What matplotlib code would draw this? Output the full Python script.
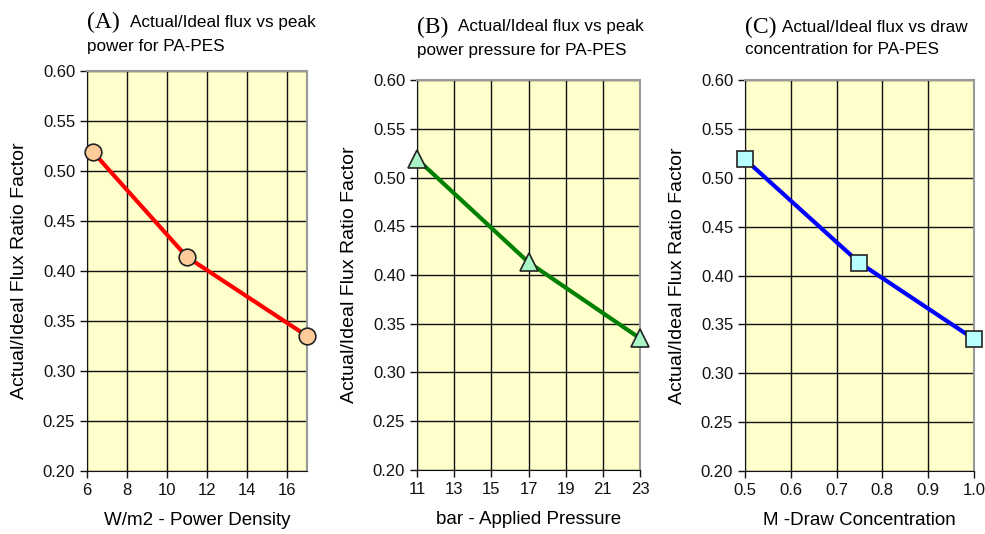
import matplotlib
matplotlib.use('Agg')
import matplotlib.pyplot as plt
from matplotlib.ticker import FormatStrFormatter

plt.rcParams['font.family'] = ['Liberation Sans', 'DejaVu Sans']

# data
power_density = [6.3, 11, 17]
pressure = [11, 17, 23]
draw_conc = [0.5, 0.75, 1.0]
ratio_a = [0.519, 0.414, 0.335]
ratio_b = [0.519, 0.413, 0.335]
ratio_c = [0.519, 0.413, 0.335]

fig = plt.figure(figsize=(9.85, 5.34), dpi=100)

panels = [
    dict(rect=[0.0883, 0.118, 0.2234, 0.749], x=power_density, y=ratio_a,
         xlim=(6, 17), xticks=[6, 8, 10, 12, 14, 16], xfmt='%d',
         line='#FF0000', marker='o', face='#FFCC99', ms=12,
         xlabel='W/m2 - Power Density', letter='(A)',
         title1='Actual/Ideal flux vs peak', title2='power for PA-PES',
         ty=(22, 47), tx=(87, 130), ylab_x=20),
    dict(rect=[0.4234, 0.120, 0.2264, 0.730], x=pressure, y=ratio_b,
         xlim=(11, 23), xticks=[11, 13, 15, 17, 19, 21, 23], xfmt='%d',
         line='#008000', marker='^', face='#AAF5C8', ms=13,
         xlabel='bar - Applied Pressure', letter='(B)',
         title1='Actual/Ideal flux vs peak', title2='power pressure for PA-PES',
         ty=(27, 50), tx=(417, 458), ylab_x=350),
    dict(rect=[0.7563, 0.118, 0.2325, 0.732], x=draw_conc, y=ratio_c,
         xlim=(0.5, 1.0), xticks=[0.5, 0.6, 0.7, 0.8, 0.9, 1.0], xfmt='%.1f',
         line='#0000FF', marker='s', face='#B8FFFF', ms=11,
         xlabel='M -Draw Concentration', letter='(C)',
         title1='Actual/Ideal flux vs draw', title2='concentration for PA-PES',
         ty=(27, 50), tx=(745, 782), ylab_x=678),
]

W, H = 985, 534
for p in panels:
    ax = fig.add_axes(p['rect'])
    ax.set_facecolor('#FFFFCC')
    ax.plot(p['x'], p['y'], color=p['line'], lw=3, marker=p['marker'],
            markersize=p['ms'], markerfacecolor=p['face'],
            markeredgecolor='#222222', markeredgewidth=1.2, clip_on=False, zorder=5)
    ax.set_xlim(*p['xlim'])
    ax.set_ylim(0.2, 0.6)
    ax.set_xticks(p['xticks'])
    ax.set_yticks([0.2, 0.25, 0.3, 0.35, 0.4, 0.45, 0.5, 0.55, 0.6])
    ax.xaxis.set_major_formatter(FormatStrFormatter(p['xfmt']))
    ax.yaxis.set_major_formatter(FormatStrFormatter('%.2f'))
    ax.grid(True, color='#111111', lw=1)
    ax.set_axisbelow(True)
    for s in ['top', 'right']:
        ax.spines[s].set_color('#999999')
        ax.spines[s].set_linewidth(1.5)
    for s in ['left', 'bottom']:
        ax.spines[s].set_color('#111111')
    ax.tick_params(direction='out', length=5, width=1, labelsize=12, colors='#111111')
    ax.set_xlabel(p['xlabel'], fontsize=13.5, labelpad=10)
    fig.text(p['ylab_x'] / W, (p['rect'][1] + p['rect'][3] / 2),
             'Actual/Ideal Flux Ratio Factor', rotation=90, fontsize=14,
             ha='center', va='center')
    fig.text(p['tx'][0] / W, 1 - p['ty'][0] / H, p['letter'], family='Liberation Serif',
             fontsize=17, va='center', ha='left')
    fig.text(p['tx'][1] / W, 1 - p['ty'][0] / H, p['title1'], fontsize=12.3,
             va='center', ha='left')
    fig.text(p['tx'][0] / W, 1 - p['ty'][1] / H, p['title2'], fontsize=12.3,
             va='center', ha='left')

fig.savefig('out.png', dpi=100)
